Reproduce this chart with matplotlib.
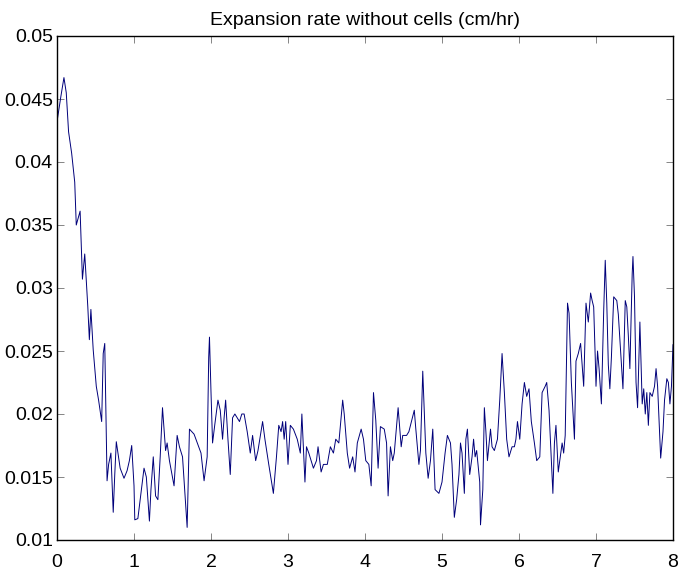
import numpy as np
import matplotlib
matplotlib.use("Agg")
import matplotlib.pyplot as plt

# Expansion rate (cm/hr)
time = [
    0.00, 0.05, 0.09, 0.12, 0.15, 0.19, 0.23, 0.25, 0.30, 0.33, 0.36, 0.40, 0.42, 0.44, 0.47,
    0.51, 0.54, 0.58, 0.60, 0.62, 0.65, 0.67, 0.70, 0.73, 0.75, 0.77, 0.82, 0.87, 0.91, 0.94,
    0.97, 1.00, 1.01, 1.05, 1.09, 1.13, 1.16, 1.20, 1.22, 1.25, 1.28, 1.31, 1.34, 1.37, 1.41,
    1.43, 1.46, 1.52, 1.56, 1.59, 1.63, 1.69, 1.72, 1.78, 1.87, 1.91, 1.95, 1.97, 1.98, 2.00,
    2.02, 2.05, 2.09, 2.12, 2.15, 2.17, 2.19, 2.22, 2.25, 2.28, 2.31, 2.37, 2.40, 2.43, 2.47,
    2.51, 2.54, 2.58, 2.61, 2.67, 2.70, 2.75, 2.81, 2.85, 2.88, 2.91, 2.93, 2.95, 2.97, 3.00,
    3.03, 3.07, 3.12, 3.16, 3.18, 3.22, 3.24, 3.27, 3.33, 3.37, 3.39, 3.43, 3.46, 3.51, 3.55,
    3.59, 3.62, 3.66, 3.71, 3.73, 3.77, 3.80, 3.84, 3.87, 3.90, 3.95, 3.98, 4.01, 4.05, 4.08,
    4.11, 4.14, 4.17, 4.20, 4.25, 4.28, 4.30, 4.33, 4.36, 4.38, 4.43, 4.47, 4.49, 4.54, 4.57,
    4.64, 4.66, 4.70, 4.72, 4.75, 4.79, 4.82, 4.85, 4.88, 4.91, 4.96, 5.00, 5.04, 5.07, 5.11,
    5.13, 5.16, 5.19, 5.22, 5.24, 5.26, 5.29, 5.31, 5.33, 5.36, 5.39, 5.41, 5.43, 5.45, 5.49,
    5.50, 5.53, 5.55, 5.57, 5.59, 5.63, 5.65, 5.68, 5.72, 5.75, 5.78, 5.81, 5.84, 5.87, 5.91,
    5.94, 5.96, 5.98, 6.01, 6.04, 6.07, 6.10, 6.13, 6.16, 6.20, 6.23, 6.27, 6.30, 6.34, 6.36,
    6.39, 6.42, 6.44, 6.46, 6.48, 6.51, 6.53, 6.56, 6.58, 6.60, 6.63, 6.65, 6.68, 6.72, 6.74,
    6.77, 6.80, 6.84, 6.87, 6.90, 6.93, 6.95, 6.97, 6.99, 7.00, 7.02, 7.04, 7.07, 7.10, 7.12,
    7.14, 7.16, 7.18, 7.20, 7.23, 7.27, 7.29, 7.31, 7.35, 7.38, 7.40, 7.42, 7.44, 7.47, 7.48,
    7.50, 7.52, 7.54, 7.57, 7.60, 7.62, 7.64, 7.66, 7.68, 7.70, 7.73, 7.76, 7.78, 7.80, 7.82,
    7.84, 7.87, 7.89, 7.92, 7.94, 7.96, 7.98, 8.00,
]
rate = [
    0.0432, 0.0452, 0.0467, 0.0455, 0.0424, 0.0407, 0.0384, 0.0350, 0.0361, 0.0307, 0.0327, 0.0285, 0.0259, 0.0283, 0.0251,
    0.0222, 0.0211, 0.0194, 0.0248, 0.0256, 0.0147, 0.0160, 0.0169, 0.0122, 0.0152, 0.0178, 0.0157, 0.0149, 0.0155, 0.0163,
    0.0175, 0.0143, 0.0116, 0.0117, 0.0137, 0.0157, 0.0150, 0.0115, 0.0140, 0.0166, 0.0135, 0.0132, 0.0166, 0.0205, 0.0171,
    0.0177, 0.0163, 0.0143, 0.0183, 0.0174, 0.0166, 0.0110, 0.0188, 0.0184, 0.0169, 0.0147, 0.0166, 0.0245, 0.0261, 0.0217,
    0.0177, 0.0192, 0.0211, 0.0203, 0.0180, 0.0197, 0.0211, 0.0180, 0.0152, 0.0197, 0.0200, 0.0194, 0.0200, 0.0200, 0.0186,
    0.0169, 0.0183, 0.0163, 0.0171, 0.0194, 0.0180, 0.0160, 0.0137, 0.0166, 0.0191, 0.0186, 0.0194, 0.0180, 0.0194, 0.0160,
    0.0191, 0.0188, 0.0180, 0.0169, 0.0200, 0.0146, 0.0174, 0.0169, 0.0157, 0.0163, 0.0174, 0.0154, 0.0160, 0.0160, 0.0174,
    0.0169, 0.0180, 0.0177, 0.0211, 0.0200, 0.0169, 0.0157, 0.0166, 0.0154, 0.0177, 0.0188, 0.0180, 0.0163, 0.0160, 0.0143,
    0.0217, 0.0195, 0.0157, 0.0190, 0.0188, 0.0177, 0.0135, 0.0174, 0.0163, 0.0169, 0.0205, 0.0174, 0.0183, 0.0183, 0.0186,
    0.0203, 0.0188, 0.0160, 0.0171, 0.0234, 0.0169, 0.0149, 0.0163, 0.0188, 0.0140, 0.0137, 0.0146, 0.0169, 0.0183, 0.0177,
    0.0160, 0.0118, 0.0132, 0.0152, 0.0177, 0.0169, 0.0137, 0.0180, 0.0188, 0.0152, 0.0166, 0.0180, 0.0166, 0.0171, 0.0146,
    0.0112, 0.0140, 0.0205, 0.0186, 0.0163, 0.0188, 0.0174, 0.0171, 0.0180, 0.0211, 0.0248, 0.0217, 0.0180, 0.0166, 0.0174,
    0.0174, 0.0180, 0.0194, 0.0180, 0.0208, 0.0225, 0.0214, 0.0220, 0.0194, 0.0177, 0.0163, 0.0166, 0.0217, 0.0222, 0.0225,
    0.0203, 0.0163, 0.0137, 0.0177, 0.0191, 0.0154, 0.0163, 0.0177, 0.0169, 0.0183, 0.0288, 0.0280, 0.0225, 0.0180, 0.0242,
    0.0248, 0.0256, 0.0222, 0.0288, 0.0273, 0.0296, 0.0290, 0.0285, 0.0245, 0.0222, 0.0250, 0.0236, 0.0208, 0.0282, 0.0322,
    0.0288, 0.0239, 0.0220, 0.0245, 0.0293, 0.0290, 0.0279, 0.0259, 0.0220, 0.0290, 0.0285, 0.0262, 0.0236, 0.0311, 0.0325,
    0.0293, 0.0225, 0.0205, 0.0273, 0.0208, 0.0220, 0.0200, 0.0217, 0.0191, 0.0217, 0.0214, 0.0222, 0.0236, 0.0222, 0.0194,
    0.0165, 0.0186, 0.0211, 0.0228, 0.0225, 0.0208, 0.0222, 0.0255,
]

x_ticks = [0, 1, 2, 3, 4, 5, 6, 7, 8]
y_ticks = [0.01, 0.015, 0.02, 0.025, 0.03, 0.035, 0.04, 0.045, 0.05]
y_labels = ["0.01", "0.015", "0.02", "0.025", "0.03", "0.035", "0.04", "0.045", "0.05"]

plt.rcParams["font.family"] = ["Liberation Sans", "DejaVu Sans"]

fig = plt.figure(figsize=(6.82, 5.76), dpi=100)
ax = fig.add_axes([0.0836, 0.0625, 0.9032, 0.875])

ax.plot(time, rate, color="#00007a", linewidth=0.7)

ax.set_xlim(0, 8)
ax.set_ylim(0.01, 0.05)
ax.set_xticks(x_ticks)
ax.set_yticks(y_ticks)
ax.set_yticklabels(y_labels)

ax.tick_params(direction="in", length=5, width=0.5, color="#555555",
               top=True, right=True, labelsize=14)
ax.tick_params(axis="x", pad=10)
ax.tick_params(axis="y", pad=3)
for s in ax.spines.values():
    s.set_linewidth(1.0)

ax.set_title("Expansion rate without cells (cm/hr)", fontsize=14, pad=8)

fig.savefig("out.png", dpi=100)
